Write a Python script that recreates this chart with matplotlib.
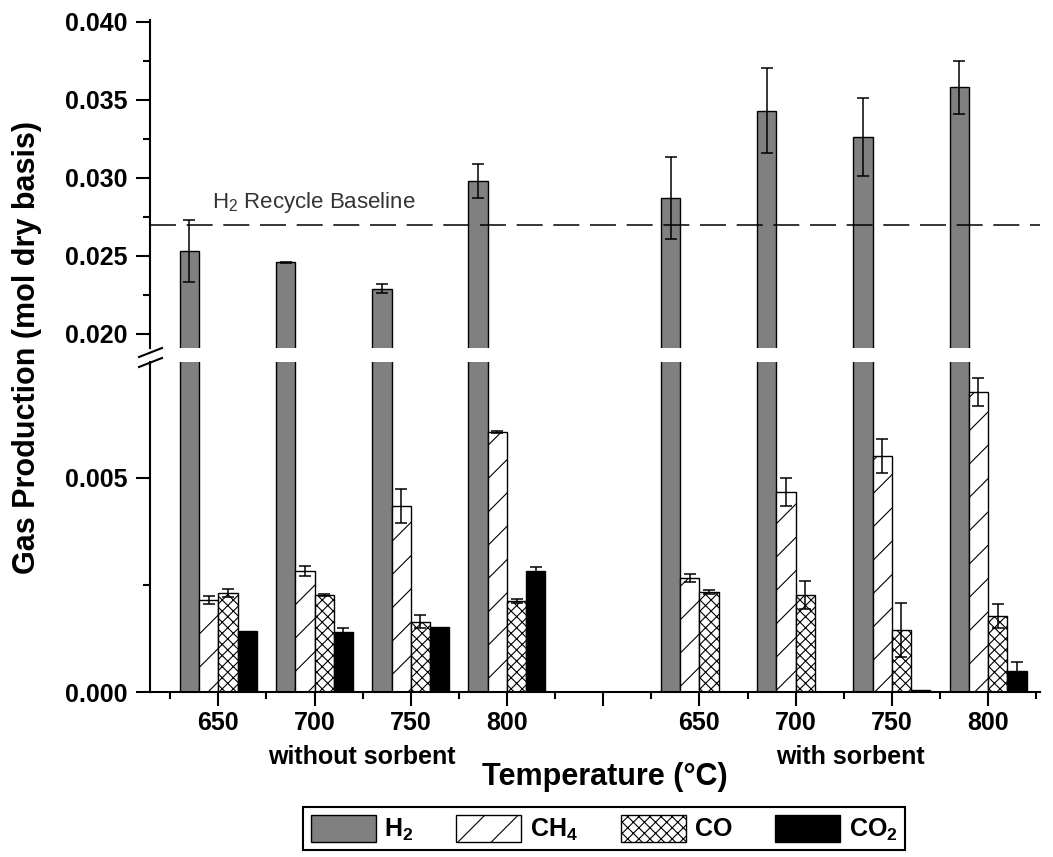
import matplotlib
matplotlib.use('Agg')
import matplotlib.pyplot as plt
from matplotlib.patches import Patch
from matplotlib.lines import Line2D
import numpy as np

plt.rcParams['font.family'] = ['Liberation Sans', 'DejaVu Sans']
plt.rcParams['font.weight'] = 'bold'
plt.rcParams['mathtext.default'] = 'regular'
plt.rcParams['hatch.linewidth'] = 0.8

# data
temps = ['650', '700', '750', '800']
groups = ['without sorbent', 'with sorbent']
x_pos = [0, 1, 2, 3, 5, 6, 7, 8]
tick_labels = temps + temps

h2 = [0.0253, 0.0246, 0.0229, 0.0298, 0.0287, 0.0343, 0.0326, 0.0358]
h2_err = [0.0020, 0.00003, 0.0003, 0.0011, 0.0026, 0.0027, 0.0025, 0.0017]
ch4 = [0.00215, 0.00283, 0.00435, 0.00607, 0.00266, 0.00467, 0.00551, 0.00701]
ch4_err = [0.0001, 0.00012, 0.0004, 0.00003, 0.0001, 0.00033, 0.0004, 0.00033]
co = [0.00231, 0.00227, 0.00164, 0.00213, 0.00234, 0.00227, 0.00145, 0.00178]
co_err = [0.0001, 0.00003, 0.00015, 0.00005, 0.00004, 0.00033, 0.00063, 0.00028]
co2 = [0.00143, 0.00140, 0.00152, 0.00283, 0.0, 0.0, 0.00005, 0.00049]
co2_err = [0, 0.0001, 0, 0.00008, 0, 0, 0, 0.00021]
h2_baseline = 0.0270

W, H = 1053, 857
fig = plt.figure(figsize=(W / 100, H / 100), dpi=100)

left, right = 150 / W, 1040 / W
ax_top = fig.add_axes([left, 1 - 348 / H, right - left, (348 - 20) / H])
ax_bot = fig.add_axes([left, 1 - 692 / H, right - left, (692 - 362) / H])

series = [
    (h2, h2_err, dict(facecolor='#808080', hatch=None), -0.3),
    (ch4, ch4_err, dict(facecolor='white', hatch='/'), -0.1),
    (co, co_err, dict(facecolor='white', hatch='xxx'), 0.1),
    (co2, co2_err, dict(facecolor='black', hatch=None), 0.3),
]
names = ['H$_2$', 'CH$_4$', 'CO', 'CO$_2$']

x = np.array(x_pos, dtype=float)
for ax in (ax_top, ax_bot):
    for vals, errs, style, off in series:
        ax.bar(x + off, vals, width=0.2, edgecolor='black', linewidth=1.0,
               zorder=2, **style)
        vals = np.array(vals)
        errs = np.array(errs)
        m = errs > 0
        ax.errorbar(x[m] + off, vals[m], yerr=errs[m], fmt='none',
                    ecolor='black', elinewidth=1.1, capsize=4, capthick=1.1,
                    zorder=3)
    ax.set_xlim(-0.71, 8.54)
    ax.spines['top'].set_visible(False)
    ax.spines['right'].set_visible(False)
    ax.spines['left'].set_linewidth(1.5)
    ax.spines['bottom'].set_linewidth(1.5)
    ax.tick_params(axis='both', which='major', direction='out', length=10,
                   width=1.5, labelsize=18)
    ax.tick_params(axis='both', which='minor', direction='out', length=5,
                   width=1.5)
    ax.tick_params(axis='y', pad=6)

ax_top.axhline(h2_baseline, color='black', lw=1.1, dashes=(17, 7), zorder=4)

ax_top.set_ylim(0.0191, 0.0401)
ax_top.set_yticks([0.020, 0.025, 0.030, 0.035, 0.040])
ax_top.set_yticks([0.0225, 0.0275, 0.0325, 0.0375], minor=True)
ax_top.set_yticklabels(['0.020', '0.025', '0.030', '0.035', '0.040'])
ax_top.spines['bottom'].set_visible(False)
ax_top.tick_params(axis='x', which='both', bottom=False, labelbottom=False)

ax_bot.set_ylim(0, 0.00771)
ax_bot.set_yticks([0.0, 0.005])
ax_bot.set_yticks([0.0025], minor=True)
ax_bot.set_yticklabels(['0.000', '0.005'])
ax_bot.set_xticks(range(0, 9))
ax_bot.set_xticks(np.arange(-0.5, 9, 1.0), minor=True)
ax_bot.set_xticklabels([tick_labels[x_pos.index(i)] if i in x_pos else ''
                        for i in range(0, 9)])
ax_bot.tick_params(axis='x', pad=4)

# break marks on the left spine
for yy in (357, 367):
    fig.add_artist(Line2D([139 / W, 162 / W], [1 - yy / H, 1 - (yy - 9) / H],
                          color='black', lw=1.5, transform=fig.transFigure))

fig.text(212 / W, 1 - 208 / H, 'H$_2$ Recycle Baseline', fontsize=16,
         fontweight='normal', color='#333333', ha='left', va='baseline')

fig.text(362 / W, 1 - 757 / H, groups[0], fontsize=18, ha='center', va='center')
fig.text(850 / W, 1 - 757 / H, groups[1], fontsize=18, ha='center', va='center')
fig.text(605 / W, 1 - 777 / H, 'Temperature (°C)', fontsize=22,
         ha='center', va='center')
fig.text(27 / W, 1 - 348 / H, 'Gas Production (mol dry basis)', fontsize=22,
         rotation=90, ha='center', va='center')

handles = [Patch(edgecolor='black', linewidth=1.0, **s[2]) for s in series]
leg = fig.legend(handles, names, loc='upper left', ncol=4, mode='expand',
                 bbox_to_anchor=(303 / W, 1 - 807 / H, (905 - 303) / W, 0),
                 borderaxespad=0, borderpad=0.3, fontsize=18, handlelength=2.6,
                 handleheight=1.3, handletextpad=0.35, columnspacing=0.5,
                 fancybox=False, framealpha=1, edgecolor='black')
leg.get_frame().set_linewidth(1.5)

plt.savefig('out.png', dpi=100)
